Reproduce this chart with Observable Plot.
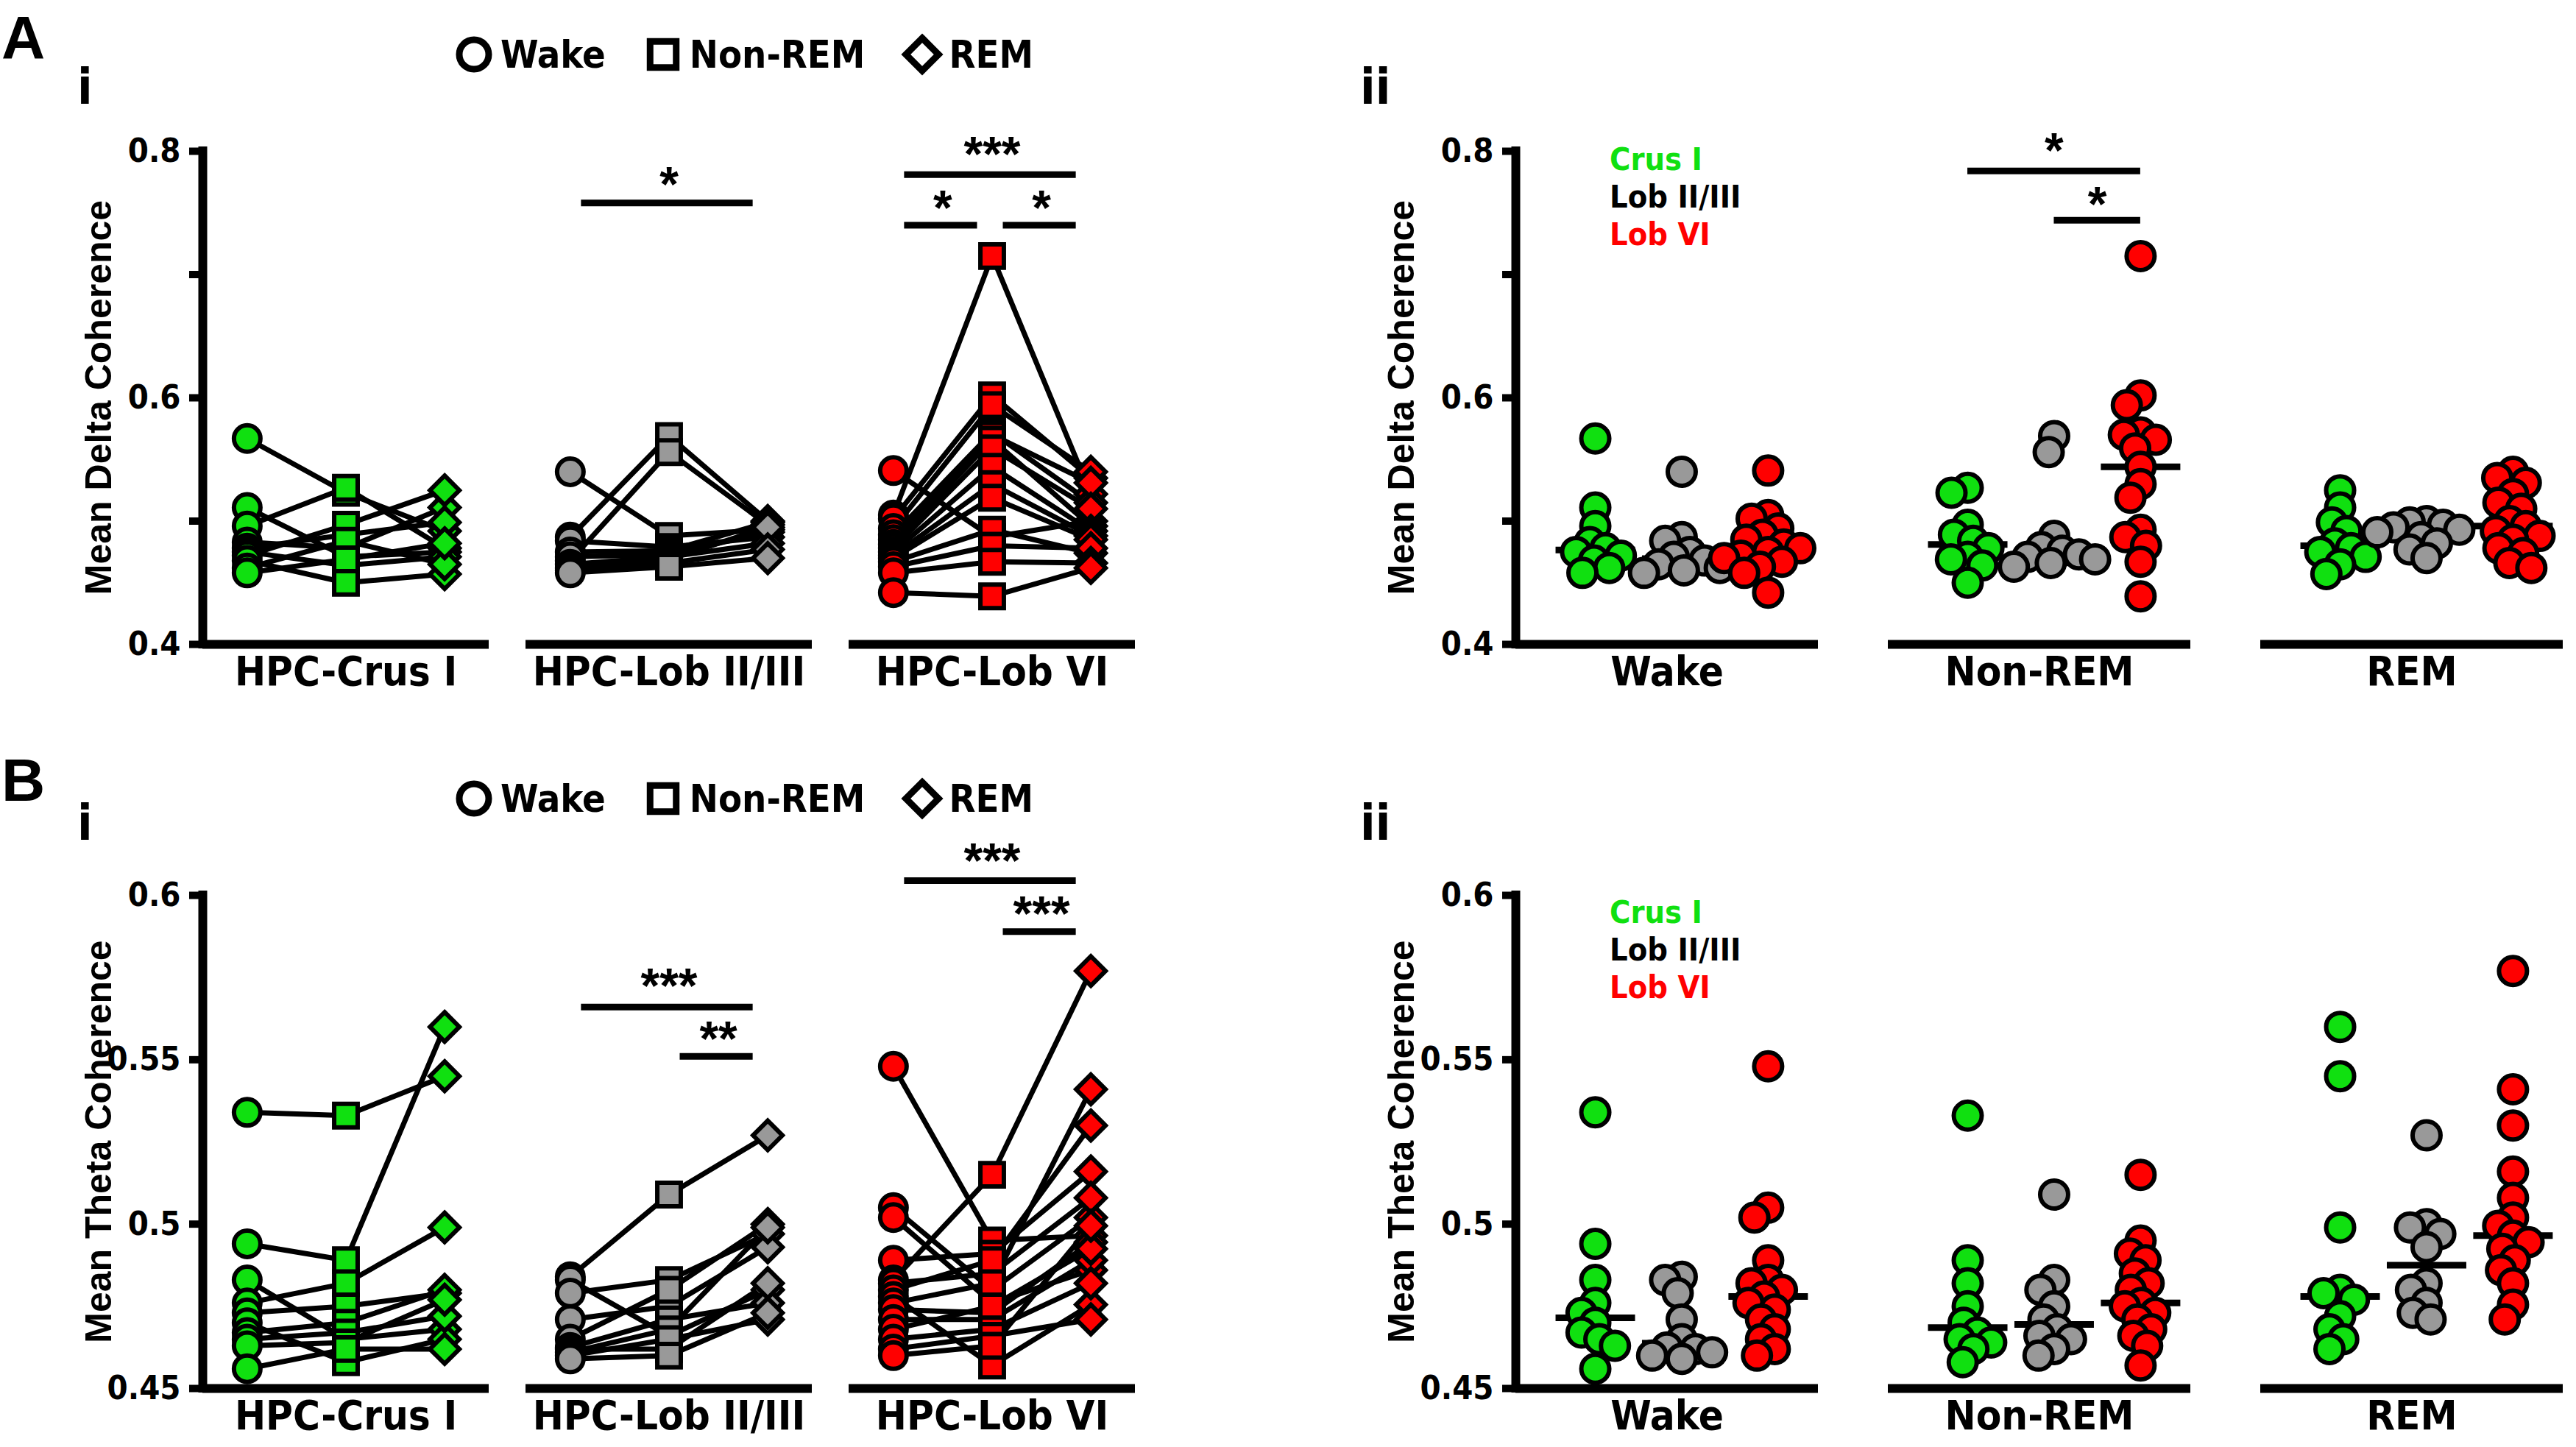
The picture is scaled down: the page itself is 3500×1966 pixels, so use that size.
<!DOCTYPE html>
<html>
<head>
<meta charset="utf-8">
<script src="https://cdn.jsdelivr.net/npm/d3@7"></script>
<script src="https://cdn.jsdelivr.net/npm/@observablehq/plot@0.6"></script>
<style>
  html, body { margin: 0; padding: 0; background: #fff; }
  #root { position: relative; width: 3500px; height: 1966px; background: #fff; overflow: hidden; }
  #root > svg, #root > div { position: absolute; }
  .letter { font-family: "Liberation Sans", Arial, sans-serif; font-weight: bold; font-size: 82px; line-height: 1.1; z-index: 5; }
  .sub { font-family: "DejaVu Sans Condensed", "DejaVu Sans", sans-serif; font-stretch: condensed; font-weight: bold; font-size: 67px; line-height: 1; z-index: 5; }
  .ytitle { font-family: "Liberation Sans", Arial, sans-serif; font-weight: bold; font-size: 50px; line-height: 1; white-space: nowrap; transform: translate(-50%, -50%) rotate(-90deg); z-index: 4; }
  .colorleg { font-family: "DejaVu Sans Condensed", "DejaVu Sans", sans-serif; font-stretch: condensed; font-weight: bold; font-size: 43px; line-height: 51px; z-index: 5; }
  .symleg-swatches { font-family: "DejaVu Sans Condensed", "DejaVu Sans", sans-serif !important; font-stretch: condensed; font-weight: bold; font-size: 52px !important; margin: 0 !important; height: 60px; align-items: center; }
  .symleg-swatch { margin-right: 62px !important; }
  .symleg-swatch > svg { margin-right: 20px !important; }
</style>
</head>
<body>
<div id="root"></div>
<script>
const NARROW = '"DejaVu Sans Condensed","DejaVu Sans",sans-serif';
const ARIAL = '"Liberation Sans",Arial,sans-serif';

// ---------- categories ----------
const states = ["Wake", "Non-REM", "REM"];
const regions = ["Crus I", "Lob II/III", "Lob VI"];
const regionAxisLabels = ["HPC-Crus I", "HPC-Lob II/III", "HPC-Lob VI"];
const regionColors = ["#10e010", "#999999", "#ff0000"];
const regionLegendColors = ["#10e010", "#000000", "#ff0000"];
const stateSymbols = ["circle", "square", "diamond2"];

// ---------- Mean Delta Coherence (per animal, same order across states) ----------
const deltaCrusWake = [0.567, 0.511, 0.496, 0.483, 0.478, 0.475, 0.472, 0.468, 0.462, 0.458];
const deltaCrusNrem = [0.523, 0.471, 0.527, 0.478, 0.489, 0.464, 0.497, 0.450, 0.484, 0.469];
const deltaCrusRem  = [0.492, 0.475, 0.478, 0.511, 0.499, 0.471, 0.525, 0.457, 0.465, 0.482];
const deltaLob23Wake = [0.540, 0.487, 0.468, 0.484, 0.475, 0.471, 0.465, 0.462, 0.460, 0.458];
const deltaLob23Nrem = [0.488, 0.569, 0.556, 0.479, 0.476, 0.473, 0.471, 0.469, 0.466, 0.463];
const deltaLob23Rem  = [0.493, 0.500, 0.497, 0.487, 0.499, 0.491, 0.482, 0.495, 0.477, 0.470];
const deltaLob6Wake = [0.541, 0.505, 0.502, 0.494, 0.489, 0.485, 0.481, 0.478, 0.475, 0.472, 0.470, 0.467, 0.463, 0.458, 0.442];
const deltaLob6Nrem = [0.487, 0.715, 0.602, 0.594, 0.572, 0.570, 0.566, 0.559, 0.544, 0.530, 0.519, 0.493, 0.480, 0.467, 0.439];
const deltaLob6Rem  = [0.500, 0.522, 0.535, 0.540, 0.515, 0.531, 0.496, 0.510, 0.492, 0.488, 0.485, 0.474, 0.478, 0.466, 0.462];

// ---------- Mean Theta Coherence ----------
const thetaCrusWake = [0.534, 0.494, 0.483, 0.476, 0.473, 0.470, 0.467, 0.465, 0.463, 0.456];
const thetaCrusNrem = [0.533, 0.489, 0.465, 0.482, 0.475, 0.458, 0.470, 0.467, 0.464, 0.462];
const thetaCrusRem  = [0.545, 0.560, 0.468, 0.499, 0.479, 0.465, 0.480, 0.472, 0.477, 0.462];
const thetaLob23Wake = [0.484, 0.483, 0.479, 0.471, 0.465, 0.4625, 0.462, 0.461, 0.460, 0.459];
const thetaLob23Nrem = [0.509, 0.466, 0.483, 0.475, 0.480, 0.471, 0.462, 0.468, 0.465, 0.460];
const thetaLob23Rem  = [0.527, 0.480, 0.497, 0.493, 0.500, 0.476, 0.482, 0.499, 0.471, 0.473];
const thetaLob6Wake = [0.548, 0.505, 0.502, 0.489, 0.483, 0.482, 0.480, 0.478, 0.476, 0.474, 0.471, 0.468, 0.465, 0.462, 0.460];
const thetaLob6Nrem = [0.495, 0.480, 0.476, 0.491, 0.515, 0.485, 0.489, 0.457, 0.482, 0.473, 0.471, 0.475, 0.468, 0.466, 0.463];
const thetaLob6Rem  = [0.4965, 0.502, 0.486, 0.516, 0.577, 0.508, 0.530, 0.4755, 0.541, 0.4945, 0.489, 0.4925, 0.482, 0.471, 0.4995];

// ---------- axes ----------
const deltaDomain = [0.4, 0.8];
const deltaTicks = [0.4, 0.5, 0.6, 0.7, 0.8];
const deltaTickLabels = ["0.4", "", "0.6", "", "0.8"];
const thetaDomain = [0.45, 0.6];
const thetaTicks = [0.45, 0.5, 0.55, 0.6];
const thetaTickLabels = ["0.45", "0.5", "0.55", "0.6"];

// ---------- significance brackets (from index, to index, bar level, label level) ----------
const sigDeltaByRegion = [
  {fx: "Lob II/III", from: 0, to: 2, y: 0.758, labelY: 0.781, label: "*"},
  {fx: "Lob VI", from: 0, to: 2, y: 0.781, labelY: 0.806, label: "***"},
  {fx: "Lob VI", from: 0, to: 1, y: 0.740, labelY: 0.762, label: "*"},
  {fx: "Lob VI", from: 1, to: 2, y: 0.740, labelY: 0.762, label: "*"}
];
const sigDeltaByState = [
  {fx: "Non-REM", from: 0, to: 2, y: 0.784, labelY: 0.809, label: "*"},
  {fx: "Non-REM", from: 1, to: 2, y: 0.744, labelY: 0.765, label: "*"}
];
const sigThetaByRegion = [
  {fx: "Lob II/III", from: 0, to: 2, y: 0.566, labelY: 0.5755, label: "***"},
  {fx: "Lob II/III", from: 1, to: 2, y: 0.551, labelY: 0.5595, label: "**"},
  {fx: "Lob VI", from: 0, to: 2, y: 0.6045, labelY: 0.6135, label: "***"},
  {fx: "Lob VI", from: 1, to: 2, y: 0.589, labelY: 0.5975, label: "***"}
];
const sigThetaByState = [];

// ---------- tidy rows ----------
function buildRows(byRegion) {
  const rows = [];
  byRegion.forEach((stateArrays, ri) => stateArrays.forEach((vals, si) => vals.forEach((v, k) =>
    rows.push({region: regions[ri], ri, state: states[si], si, subject: ri + "-" + k, value: v}))));
  return rows;
}
const deltaRows = buildRows([
  [deltaCrusWake, deltaCrusNrem, deltaCrusRem],
  [deltaLob23Wake, deltaLob23Nrem, deltaLob23Rem],
  [deltaLob6Wake, deltaLob6Nrem, deltaLob6Rem]
]);
const thetaRows = buildRows([
  [thetaCrusWake, thetaCrusNrem, thetaCrusRem],
  [thetaLob23Wake, thetaLob23Nrem, thetaLob23Rem],
  [thetaLob6Wake, thetaLob6Nrem, thetaLob6Rem]
]);

const root = document.getElementById("root");
function place(el, left, top) {
  el.style.left = left + "px"; el.style.top = top + "px";
  root.appendChild(el);
}
function tickFmt(ticks, labels) { return d => labels[ticks.indexOf(d)] ?? ""; }

const hline = { draw(ctx, size) { const w = Math.sqrt(size / Math.PI); ctx.moveTo(-w, 0); ctx.lineTo(w, 0); } };
const svgStyle = {fontFamily: NARROW, fontStretch: "condensed", fontWeight: "bold", background: "transparent", overflow: "visible"};

function frameMarks(c, xDom, facetKeys, fxFmt) {
  return [
    Plot.ruleY([c.yDomain[0]], {stroke: "black", strokeWidth: 12}),
    Plot.ruleX([{fx: facetKeys[0]}], {fx: "fx", x: () => xDom[0], y1: () => c.yDomain[0], y2: () => c.yDomain[1], stroke: "black", strokeWidth: 12, strokeLinecap: "square"}),
    Plot.axisY({ticks: c.ticks, tickFormat: tickFmt(c.ticks, c.tickLabels), tickSize: 18, tickPadding: 12, strokeWidth: 10, fontSize: 45, fontFamily: NARROW, fontWeight: "bold", label: null}),
    Plot.axisFx({anchor: "bottom", tickSize: 0, tickPadding: 16, fontSize: 56, fontFamily: NARROW, fontWeight: "bold", label: null, tickFormat: fxFmt})
  ];
}
function sigMarks(sig, c) {
  return [
    Plot.ruleY(sig, {fx: "fx", x1: "from", x2: "to", y: "y", stroke: "black", strokeWidth: 9, insetLeft: c.insL, insetRight: c.insR}),
    Plot.text(sig, {fx: "fx", x: d => (d.from + d.to) / 2, y: "labelY", text: "label", fontSize: 66, fontFamily: ARIAL, fontWeight: "bold", dy: 15})
  ];
}

// ---------- panel i: per-region, lines across states ----------
function panelI(c) {
  const xDom = [-0.45, 2.45];
  return Plot.plot({
    width: c.width, height: c.height,
    marginLeft: c.ml, marginRight: c.mr, marginTop: c.mt, marginBottom: c.mb,
    style: svgStyle,
    x: {domain: xDom, axis: null},
    y: {domain: c.yDomain},
    fx: {domain: regions, paddingInner: 0.114, paddingOuter: 0},
    symbol: {domain: states, range: stateSymbols},
    color: {domain: regions, range: regionColors},
    marks: [
      ...frameMarks(c, xDom, regions, d => regionAxisLabels[regions.indexOf(d)]),
      ...sigMarks(c.sig, {insL: 15, insR: 20}),
      Plot.line(c.rows, {fx: "region", x: "si", y: "value", z: "subject", stroke: "black", strokeWidth: 7}),
      Plot.dot(c.rows, {fx: "region", x: "si", y: "value", symbol: "state", fill: "region", stroke: "black", strokeWidth: 6, r: 18})
    ]
  });
}

// ---------- panel ii: per-state scatter by region ----------
function panelII(c) {
  const xDom = [-0.92, 2.58];
  const base = {
    width: c.width, height: c.height,
    marginLeft: c.ml, marginRight: c.mr, marginTop: c.mt, marginBottom: c.mb,
    style: svgStyle,
    x: {domain: xDom, axis: null},
    y: {domain: c.yDomain},
    fx: {domain: states, paddingInner: 0.188, paddingOuter: 0}
  };
  const probe = Plot.plot({...base, marks: [Plot.dot(c.rows, {fx: "state", x: "ri", y: "value"})]});
  const xs = probe.scale("x");
  const ppu = Math.abs(xs.range[1] - xs.range[0]) / (xDom[1] - xDom[0]);
  const mid = (xDom[0] + xDom[1]) / 2;
  const dotMarks = regions.map((reg, ri) => Plot.dot(
    c.rows.filter(d => d.ri === ri).sort((a, b) => d3.descending(a.value, b.value)),
    Plot.dodgeX({anchor: "middle", padding: -15}, {fx: "state", y: "value", r: 19, fill: regionColors[ri], stroke: "black", strokeWidth: 6, dx: (ri - mid) * ppu})
  ));
  return Plot.plot({
    ...base,
    marks: [
      ...frameMarks(c, xDom, states, d => d),
      ...sigMarks(c.sig, {insL: 0, insR: 0}),
      Plot.dot(c.rows, Plot.groupX({y: "median"}, {fx: "state", x: "ri", y: "value", symbol: hline, r: 54, fill: "none", stroke: "black", strokeWidth: 9})),
      ...dotMarks
    ]
  });
}

const commonA = {yDomain: deltaDomain, ticks: deltaTicks, tickLabels: deltaTickLabels, mt: 205, mb: 105, height: 980};
const commonB = {yDomain: thetaDomain, ticks: thetaTicks, tickLabels: thetaTickLabels, mt: 216, mb: 80, height: 966};

place(panelI({...commonA, rows: deltaRows, sig: sigDeltaByRegion, width: 1600, ml: 274, mr: 58}), 0, 0);
place(panelII({...commonA, rows: deltaRows, sig: sigDeltaByState, width: 1750, ml: 308, mr: 18}), 1750, 0);
place(panelI({...commonB, rows: thetaRows, sig: sigThetaByRegion, width: 1600, ml: 274, mr: 58}), 0, 1000);
place(panelII({...commonB, rows: thetaRows, sig: sigThetaByState, width: 1750, ml: 308, mr: 18}), 1750, 1000);

// ---------- text overlays ----------
function textDiv(cls, txt, left, top) { const d = document.createElement("div"); d.className = cls; d.textContent = txt; place(d, left, top); return d; }
textDiv("letter", "A", 2, 6);
textDiv("letter", "B", 2, 1015);
textDiv("sub", "i", 105, 86);
textDiv("sub", "ii", 1848, 86);
textDiv("sub", "i", 105, 1086);
textDiv("sub", "ii", 1848, 1086);
textDiv("ytitle", "Mean Delta Coherence", 134, 540);
textDiv("ytitle", "Mean Delta Coherence", 1904, 540);
textDiv("ytitle", "Mean Theta Coherence", 134, 1551);
textDiv("ytitle", "Mean Theta Coherence", 1904, 1551);

function symLegend(top) {
  const leg = Plot.legend({symbol: {domain: states, range: stateSymbols}, fill: "none", stroke: "black", strokeWidth: 4.5, r: 10, swatchSize: 32, className: "symleg"});
  leg.style.zIndex = 5;
  place(leg, 628, top);
}
symLegend(44);
symLegend(1055);

function colorLegend(top) {
  const d = document.createElement("div");
  d.className = "colorleg";
  regions.forEach((r, i) => { const s = document.createElement("div"); s.textContent = r; s.style.color = regionLegendColors[i]; d.appendChild(s); });
  place(d, 2187, top);
}
colorLegend(191);
colorLegend(1214);
</script>
</body>
</html>
